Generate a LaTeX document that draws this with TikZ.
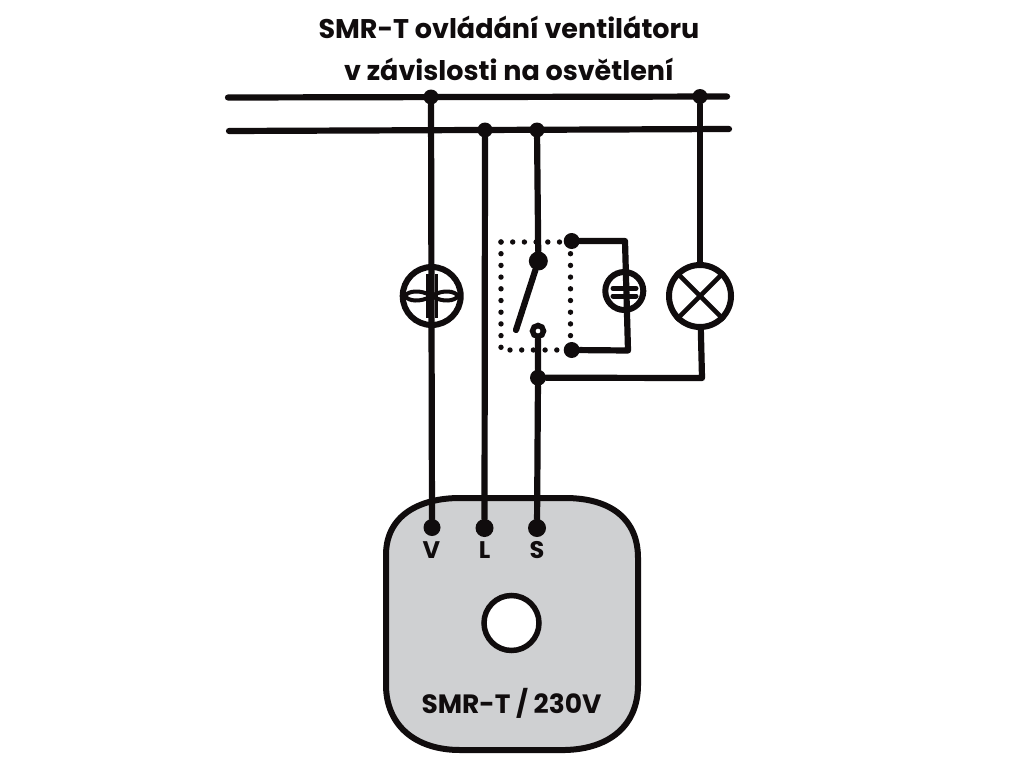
\documentclass[tikz,border=0pt]{standalone}
\usepackage{fontspec}
\setmainfont{Poppins}
\usetikzlibrary{calc}
\definecolor{ink}{HTML}{100C0D}
\definecolor{body}{HTML}{CFD0D2}
\tikzset{
  x=1pt,y=-1pt,
  wire/.style={draw=ink,line width=6.2pt,line join=round,line cap=round},
  thin wire/.style={draw=ink,line width=4.6pt},
  jun/.style={circle,fill=ink,inner sep=0pt,minimum size=#1},
  jun/.default=15pt,
  symbol/.style={circle,draw=ink,fill=white,line width=6pt,inner sep=0pt,minimum size=#1},
  dotted box/.style={draw=ink,line width=5.4pt,line cap=round,dash pattern=on 0pt off 11.7pt},
  title/.style={font=\fontsize{27}{42}\selectfont\bfseries,text=ink,align=center,inner sep=0pt},
  term/.style={font=\fontsize{24}{24}\selectfont\bfseries,text=ink,inner sep=0pt},
}
\begin{document}
\begin{tikzpicture}
\useasboundingbox (0,0) rectangle (1024,768);
\fill[white] (0,0) rectangle (1024,768);
\node[title,anchor=center] (ttl) at (509,48) {SMR-T ovládání ventilátoru\\v závislosti na osvětlení};
% module
\path[draw=ink,fill=body,line width=6pt]
  (386,555) .. controls (386,515) and (420,498) .. (460,498)
  -- (565,498) .. controls (612,498) and (638,520) .. (638,558)
  -- (638,685) .. controls (638,725) and (610,749) .. (565,750)
  -- (460,750) .. controls (415,750) and (386,725) .. (386,685) -- cycle;
\node[circle,draw=ink,fill=white,line width=5.5pt,inner sep=0pt,minimum size=55pt] (hole) at (511.5,623) {};
\node[term] (lblV) at (431.5,550.5) {V};
\node[term] (lblL) at (484.5,550.5) {L};
\node[term] (lblS) at (537,550.5) {S};
\node[font=\fontsize{26.5}{26.5}\selectfont\bfseries,text=ink,inner sep=0pt] (name) at (511.5,703) {SMR-T / 230V};
% coordinates
\coordinate (b1a) at (228,97.5); \coordinate (b1b) at (727,96.5);
\coordinate (b2a) at (229,131); \coordinate (b2b) at (729,129);
\node[jun] (j1) at (431,97) {};
\node[jun] (j4) at (700,96.5) {};
\node[jun] (j2) at (485,130) {};
\node[jun] (j3) at (537,130) {};
\node[jun=17pt] (tV) at (432,527.5) {};
\node[jun=18pt] (tL) at (484.5,528) {};
\node[jun=18pt] (tS) at (537,528) {};
\draw[wire] (b1a) -- (b1b);
\draw[wire] (b2a) -- (b2b);
\node[symbol=58pt] (fan) at (431.7,296) {};
\node[symbol=38pt] (cap) at (624.3,291) {};
\node[symbol=62pt] (lamp) at (700,296) {};
% dotted frame
\draw[dotted box] (501,242) -- (570,242);
\draw[dotted box] (501,242) -- (501,350) -- (570,350);
\draw[dotted box] (570.5,242) -- (570.5,350);
% wires
\draw[wire] (j1) -- (tV);
\draw[wire] (j2) -- (tL);
\node[jun=19pt] (pivot) at (538.3,261) {};
\coordinate (blade) at (516,330);
\node[jun=16pt] (jt) at (571.7,241) {};
\node[jun=16pt] (jb) at (571.7,350) {};
\node[jun=16pt] (js) at (538,377.7) {};
\node[circle,draw=ink,fill=white,line width=5.5pt,inner sep=0pt,minimum size=11pt] (contact) at (538,331) {};
\draw[wire] (j3) -- (pivot);
\draw[wire] (pivot) -- (blade);
\draw[wire] (contact) -- (js) -- (tS);
\draw[wire] (jt) -- (625,241) -- (628,350.5) -- (jb);
\draw[wire] (j4) -- (lamp);
\draw[wire] (lamp) -- (702,378) -- (js);
% lamp cross
\draw[thin wire] (lamp.45) -- (lamp.225);
\draw[thin wire] (lamp.135) -- (lamp.315);
% capacitor
\draw[draw=ink,line width=5pt,line cap=round] (613,288.3) -- (636,288.3);
\draw[draw=ink,line width=5pt,line cap=round] (613,296) -- (636,296);
% fan blades
\draw[draw=ink,line width=4pt] (431.7,296) .. controls (420,289) and (408,291) .. (405,296) .. controls (408,301) and (420,303) .. (431.7,296);
\draw[draw=ink,line width=4pt] (431.7,296) .. controls (443,289) and (455,291) .. (458,296) .. controls (455,301) and (443,303) .. (431.7,296);
\draw[draw=ink,line width=2.5pt] (427.5,274) -- (427.5,318);
\draw[draw=ink,line width=2.5pt] (436.5,274) -- (436.5,318);
\end{tikzpicture}
\end{document}
